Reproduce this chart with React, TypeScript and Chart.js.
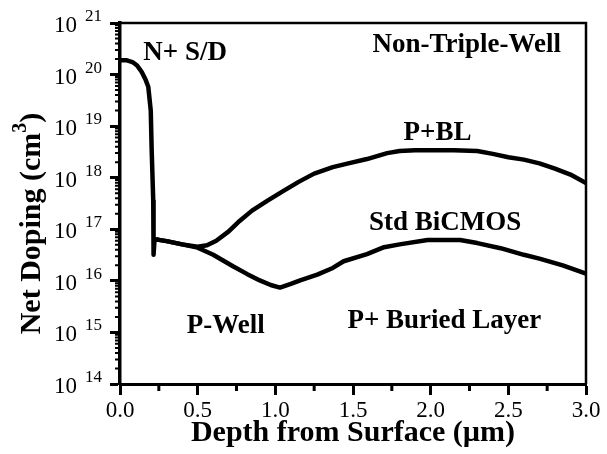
import { useEffect, useRef } from 'react';
import { Chart, registerables } from 'chart.js';

Chart.register(...registerables);

const SERIF = '"Liberation Serif", "Times New Roman", serif';

// Shared N+ source/drain profile (depth in µm, net doping in cm^-3)
const sdDepth = [0, 0.04, 0.08, 0.11, 0.14, 0.165, 0.182, 0.198, 0.204, 0.214, 0.216, 0.222, 0.24];
const sdDoping = [1.9e20, 1.9e20, 1.75e20, 1.5e20, 1.12e20, 7.9e19, 5.8e19, 2.0e19, 3.4e18, 3.6e17, 3.2e16, 6.2e16, 6.3e16];

// Non-triple-well profile with P+ buried layer
const pblDepth = [0.24, 0.3, 0.4, 0.5, 0.56, 0.62, 0.7, 0.77, 0.85, 0.95, 1.05, 1.15, 1.25, 1.37, 1.47, 1.59, 1.72, 1.8, 1.9, 2.0, 2.15, 2.3, 2.4, 2.5, 2.6, 2.7, 2.8, 2.9, 3.0];
const pblDoping = [6.3e16, 5.9e16, 5.1e16, 4.6e16, 4.9e16, 6.0e16, 9.1e16, 1.45e17, 2.3e17, 3.6e17, 5.5e17, 8.3e17, 1.2e18, 1.6e18, 1.9e18, 2.3e18, 3.0e18, 3.3e18, 3.4e18, 3.4e18, 3.4e18, 3.3e18, 2.9e18, 2.5e18, 2.24e18, 1.9e18, 1.5e18, 1.15e18, 7.9e17];

// Standard BiCMOS profile
const stdDepth = [0.24, 0.3, 0.4, 0.5, 0.6, 0.73, 0.82, 0.9, 0.97, 1.03, 1.1, 1.16, 1.27, 1.37, 1.44, 1.59, 1.7, 1.8, 1.98, 2.19, 2.3, 2.45, 2.6, 2.7, 2.85, 3.0];
const stdDoping = [6.3e16, 5.9e16, 5.1e16, 4.4e16, 3.2e16, 1.9e16, 1.35e16, 1.02e16, 8.3e15, 7.4e15, 8.7e15, 1.02e16, 1.32e16, 1.78e16, 2.4e16, 3.3e16, 4.5e16, 5.1e16, 6.2e16, 6.2e16, 5.4e16, 4.3e16, 3.2e16, 2.7e16, 2.0e16, 1.38e16];

// Axis ticks
const decadeExponents = [14, 15, 16, 17, 18, 19, 20, 21];
const minorDepthTicks = [0.25, 0.75, 1.25, 1.75, 2.25, 2.75];

// Region labels, anchored at (depth, doping) of their baseline centre
const labelTexts = ['N+ S/D', 'Non-Triple-Well', 'P+BL', 'Std BiCMOS', 'P+ Buried Layer', 'P-Well'];
const labelDepth = [0.419, 2.232, 2.044, 2.093, 2.088, 0.681];
const labelDoping = [1.89e20, 2.74e20, 5.33e18, 9.6e16, 1.2e15, 9.6e14];

const toPoints = (xs: number[], ys: number[]) => xs.map((x, i) => ({ x, y: ys[i] }));

const decorations = {
  id: 'profileDecorations',
  afterDraw(chart: any) {
    const { ctx, chartArea: a, scales } = chart;
    const xs = scales.x;
    const ys = scales.y;
    ctx.save();
    ctx.strokeStyle = '#000';
    ctx.fillStyle = '#000';

    // top and right frame
    ctx.lineWidth = 2.5;
    ctx.beginPath();
    ctx.moveTo(a.left, a.top);
    ctx.lineTo(a.right, a.top);
    ctx.lineTo(a.right, a.bottom);
    ctx.stroke();

    // minor depth ticks
    ctx.lineWidth = 3;
    ctx.beginPath();
    for (const v of minorDepthTicks) {
      const px = xs.getPixelForValue(v);
      ctx.moveTo(px, a.bottom);
      ctx.lineTo(px, a.bottom + 7);
    }
    ctx.stroke();

    // minor log ticks
    ctx.lineWidth = 2;
    ctx.beginPath();
    for (let i = 0; i < decadeExponents.length - 1; i++) {
      for (let k = 2; k <= 9; k++) {
        const py = ys.getPixelForValue(k * Math.pow(10, decadeExponents[i]));
        ctx.moveTo(a.left, py);
        ctx.lineTo(a.left - 5, py);
      }
    }
    ctx.stroke();

    // decade labels: 10 with superscript exponent
    for (const n of decadeExponents) {
      const py = ys.getPixelForValue(Math.pow(10, n));
      ctx.font = `23px ${SERIF}`;
      ctx.textAlign = 'right';
      ctx.textBaseline = 'alphabetic';
      ctx.fillText('10', a.left - 43, py + 9);
      ctx.font = `17px ${SERIF}`;
      ctx.textAlign = 'left';
      ctx.fillText(String(n), a.left - 35, py - 2);
    }

    // y axis title with superscript
    ctx.save();
    ctx.translate(40, (a.top + a.bottom) / 2 + 20);
    ctx.rotate(-Math.PI / 2);
    const main = 'Net Doping (cm';
    const big = `bold 30px ${SERIF}`;
    const small = `bold 20px ${SERIF}`;
    ctx.font = big;
    const w1 = ctx.measureText(main).width;
    const w3 = ctx.measureText(')').width;
    ctx.font = small;
    const w2 = ctx.measureText('3').width;
    let cx = -(w1 + w2 + w3) / 2;
    ctx.textAlign = 'left';
    ctx.textBaseline = 'alphabetic';
    ctx.font = big;
    ctx.fillText(main, cx, 0);
    cx += w1;
    ctx.font = small;
    ctx.fillText('3', cx, -14);
    cx += w2;
    ctx.font = big;
    ctx.fillText(')', cx, 0);
    ctx.restore();

    // region labels
    ctx.font = `bold 27px ${SERIF}`;
    ctx.textAlign = 'center';
    ctx.textBaseline = 'alphabetic';
    labelTexts.forEach((t, i) => {
      ctx.fillText(t, xs.getPixelForValue(labelDepth[i]), ys.getPixelForValue(labelDoping[i]));
    });

    ctx.restore();
  },
};

export default function App() {
  const canvasRef = useRef<HTMLCanvasElement | null>(null);

  useEffect(() => {
    if (!canvasRef.current) return;
    const lineStyle = {
      borderColor: '#000',
      borderWidth: 4.5,
      pointRadius: 0,
      tension: 0,
      fill: false,
      borderJoinStyle: 'round' as const,
      borderCapStyle: 'round' as const,
    };
    const chart = new Chart(canvasRef.current, {
      type: 'line',
      data: {
        datasets: [
          { label: 'N+ S/D', data: toPoints(sdDepth, sdDoping), ...lineStyle },
          { label: 'P+BL', data: toPoints(pblDepth, pblDoping), ...lineStyle },
          { label: 'Std BiCMOS', data: toPoints(stdDepth, stdDoping), ...lineStyle },
        ],
      },
      options: {
        animation: false,
        responsive: false,
        layout: { padding: { top: 23, right: 21, left: 0, bottom: 0 } },
        plugins: { legend: { display: false }, tooltip: { enabled: false } },
        scales: {
          x: {
            type: 'linear',
            min: 0,
            max: 3,
            afterFit: (s: any) => {
              s.height = 70;
            },
            border: { display: true, color: '#000', width: 3 },
            grid: { drawOnChartArea: false, drawTicks: true, tickLength: 11, tickWidth: 3, tickColor: '#000' },
            ticks: {
              stepSize: 0.5,
              autoSkip: false,
              maxRotation: 0,
              padding: 2,
              color: '#000',
              font: { family: SERIF, size: 23 },
              callback: (v: any) => Number(v).toFixed(1),
            },
            title: {
              display: true,
              text: 'Depth from Surface (µm)',
              color: '#000',
              font: { family: SERIF, size: 30, weight: 'bold' },
              padding: { top: 0, bottom: 3 },
            },
          },
          y: {
            type: 'logarithmic',
            min: 1e14,
            max: 1e21,
            afterFit: (s: any) => {
              s.width = 120;
            },
            afterBuildTicks: (s: any) => {
              s.ticks = decadeExponents.map((n) => ({ value: Math.pow(10, n), major: true }));
            },
            border: { display: true, color: '#000', width: 3.5 },
            grid: { drawOnChartArea: false, drawTicks: true, tickLength: 10, tickWidth: 3, tickColor: '#000' },
            ticks: { display: false },
          },
        },
      },
      plugins: [decorations],
    });
    return () => chart.destroy();
  }, []);

  return (
    <div style={{ position: 'fixed', left: 0, top: 0, width: 607, height: 454, background: '#fff' }}>
      <canvas ref={canvasRef} width={607} height={454} style={{ display: 'block' }} />
    </div>
  );
}
